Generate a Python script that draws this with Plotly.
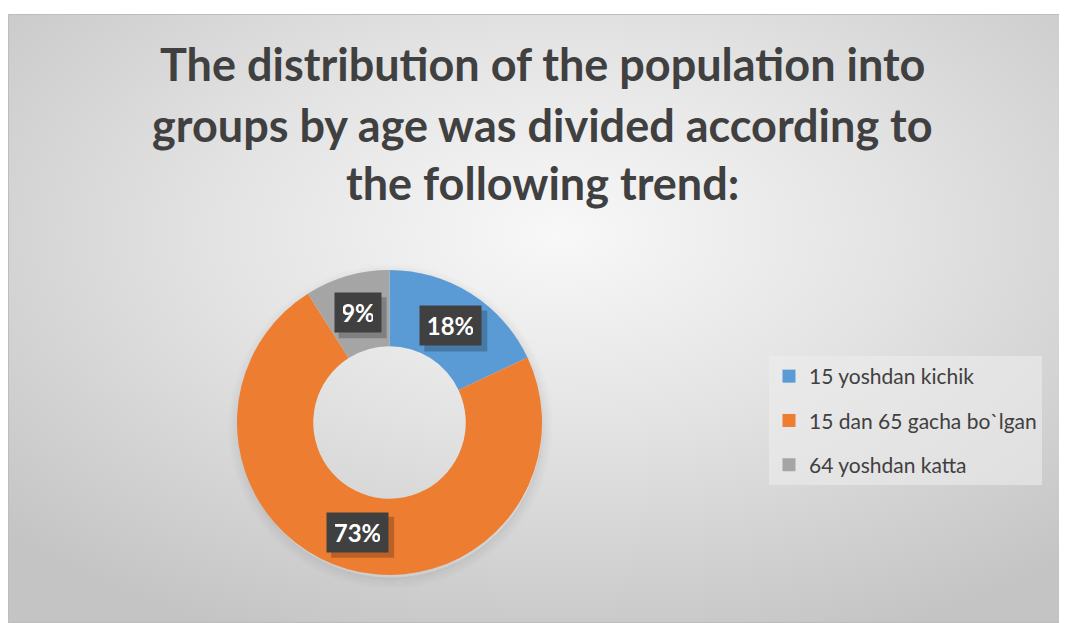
import math
import base64
import plotly.graph_objects as go

# ---- data ----
categories = ["15 yoshdan kichik", "15 dan 65 gacha bo`lgan", "64 yoshdan katta"]
values = [18, 73, 9]
colors = ["#5B9BD5", "#ED7D31", "#A5A5A5"]
title_lines = [
    "The distribution of the population into",
    "groups by age was divided according to",
    "the following trend:",
]

# the page body has an 8px margin, the figure sits at (8, 8)
OFF = 8
W, H = 1067 - OFF, 623 - OFF


def px(x):
    """page pixel x -> paper"""
    return (x - OFF) / W


def py(y):
    """page pixel y -> paper"""
    return 1 - (y - OFF) / H


# donut geometry (page pixels)
cx, cy = 389.5, 422.5
r_out = 152.5
hole = 0.5

fig = go.Figure()

fig.add_trace(go.Pie(
    labels=categories,
    values=values,
    hole=hole,
    sort=False,
    direction="clockwise",
    rotation=0,
    marker=dict(colors=colors, line=dict(width=0)),
    textinfo="none",
    showlegend=False,
    domain=dict(x=[px(cx - r_out), px(cx + r_out)], y=[py(cy + r_out), py(cy - r_out)]),
    hovertemplate="%{label}: %{percent}<extra></extra>",
))

# legend entries (native legend) via empty scatter traces
for i, (cat, col) in enumerate(zip(categories, colors)):
    fig.add_trace(go.Scatter(
        x=[None], y=[None], mode="markers", name=cat,
        marker=dict(symbol="square", size=13, color=col),
        legendgroup=f"g{i}", showlegend=True, hoverinfo="skip",
    ))

shapes = []
annotations = []

# top white strip of the page (page y 8..14)
shapes.append(dict(type="rect", xref="paper", yref="paper", x0=0, x1=1,
                   y0=py(14), y1=1, fillcolor="white", line=dict(width=0), layer="below"))

# soft drop shadow ring around the donut (fading outwards)
n_rings = 14
for k in range(n_rings):
    rr = r_out - 1 + k
    a = 0.055 * (1 - k / n_rings) ** 1.5
    shapes.append(dict(
        type="circle", xref="paper", yref="paper", xsizemode="pixel", ysizemode="pixel",
        xanchor=px(cx + 1), yanchor=py(cy + 4), x0=-rr, x1=rr, y0=-rr, y1=rr,
        fillcolor="rgba(0,0,0,0)", line=dict(width=1.4, color=f"rgba(0,0,0,{a:.4f})"),
        layer="below",
    ))

# data labels computed from values
total = sum(values)
r_mid = r_out * (1 + hole) / 2
cum = 0
for v in values:
    mid = (cum + v / 2) / total * 2 * math.pi
    cum += v
    lx = cx + r_mid * math.sin(mid)
    ly = cy - r_mid * math.cos(mid)
    txt = f"{round(v / total * 100)}%"
    tw = 15 * len(txt)
    th = 23
    pad = 8
    bw_, bh_ = tw + 2 * pad + 2, th + 2 * pad + 2
    shapes.append(dict(
        type="rect", xref="paper", yref="paper", xsizemode="pixel", ysizemode="pixel",
        xanchor=px(lx), yanchor=py(ly),
        x0=-bw_ / 2 + 5, x1=bw_ / 2 + 5, y0=-bh_ / 2 - 5, y1=bh_ / 2 - 5,
        fillcolor="rgba(0,0,0,0.22)", line=dict(width=0), layer="above",
    ))
    annotations.append(dict(
        x=px(lx), y=py(ly), xref="paper", yref="paper", text=f"<b>{txt}</b>", showarrow=False,
        font=dict(family="Lato", size=24, color="white"),
        bgcolor="#404040", borderpad=pad, width=tw, height=th,
        xanchor="center", yanchor="middle",
    ))

# title lines (page y of each line's centre)
title_y = [64, 125, 183]
for line, ty in zip(title_lines, title_y):
    annotations.append(dict(
        x=px(542), y=py(ty), xref="paper", yref="paper", text=f"<b>{line}</b>",
        showarrow=False, xanchor="center", yanchor="middle",
        font=dict(family="Lato", size=45, color="#404040"),
    ))

# background radial gradient for the chart area (page x 8..1067, y 14..623)
bx0, by0 = 8, 14
bw, bh = 1067 - bx0, 623 - by0
svg = f'''<svg xmlns="http://www.w3.org/2000/svg" width="{bw}" height="{bh}" viewBox="0 0 {bw} {bh}" preserveAspectRatio="none">
<defs><radialGradient id="g" cx="0.52" cy="0.36" r="0.72">
<stop offset="0" stop-color="#f8f8f8"/>
<stop offset="0.45" stop-color="#e3e3e3"/>
<stop offset="1" stop-color="#c4c4c4"/>
</radialGradient></defs>
<rect x="0" y="0" width="{bw}" height="{bh}" fill="url(#g)"/>
<rect x="0.5" y="0.5" width="{bw-1}" height="{bh-1}" fill="none" stroke="#bdbdbd" stroke-width="1"/>
</svg>'''
src = "data:image/svg+xml;base64," + base64.b64encode(svg.encode()).decode()

fig.update_layout(
    width=W, height=H,
    margin=dict(l=0, r=0, t=0, b=0),
    paper_bgcolor="#c6c6c6",
    plot_bgcolor="rgba(0,0,0,0)",
    xaxis=dict(visible=False),
    yaxis=dict(visible=False),
    images=[dict(source=src, xref="paper", yref="paper", x=px(bx0), y=py(by0),
                 sizex=bw / W, sizey=bh / H, xanchor="left", yanchor="top",
                 sizing="stretch", layer="below")],
    annotations=annotations,
    shapes=shapes,
    legend=dict(
        x=px(769), y=py(356), xanchor="left", yanchor="top",
        bgcolor="rgba(236,236,236,0.6)",
        font=dict(family="Lato", size=21, color="#404040"),
        tracegroupgap=14, traceorder="grouped",
        itemsizing="trace",
    ),
    showlegend=True,
)

fig.write_html("out.html")
